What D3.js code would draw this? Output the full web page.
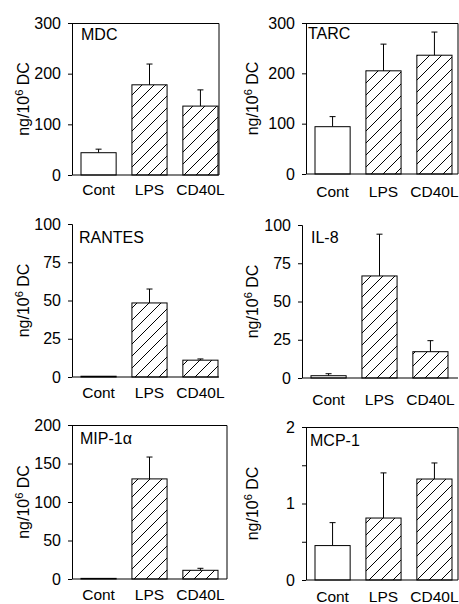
<!DOCTYPE html>
<html lang="en">

<head>
    <meta charset="UTF-8">
    <title>Chemokine production by DC</title>
    <script src="https://d3js.org/d3.v7.min.js"></script>
    <style>
        body { margin: 0; background: white; }
        text { font-family: "Liberation Sans", Arial, sans-serif; fill: black; }
    </style>
</head>

<body>
    <script>
        // categories
        const stimuli = ["Cont", "LPS", "CD40L"];

        // panel names
        const chemokines = ["MDC", "TARC", "RANTES", "IL-8", "MIP-1\u03b1", "MCP-1"];

        // mean values (ng/10^6 DC), one array per chemokine: Cont, LPS, CD40L
        const mdcMean = [44, 178, 136];
        const tarcMean = [94, 205, 236];
        const rantesMean = [0.5, 48.4, 11];
        const il8Mean = [1.5, 66.7, 17.2];
        const mipMean = [0.8, 130, 11.3];
        const mcpMean = [0.45, 0.81, 1.32];

        // error bar (upper) sizes
        const mdcErr = [7, 41, 32];
        const tarcErr = [20, 53, 46];
        const rantesErr = [0, 9.1, 0.8];
        const il8Err = [1.3, 27.3, 7.2];
        const mipErr = [0, 28.4, 2.6];
        const mcpErr = [0.3, 0.59, 0.21];

        // y tick labels
        const ticks300 = [0, 100, 200, 300];
        const ticks100 = [0, 25, 50, 75, 100];
        const ticks200 = [0, 50, 100, 150, 200];
        const ticks2 = [0, 0.5, 1, 1.5, 2];

        const means = [mdcMean, tarcMean, rantesMean, il8Mean, mipMean, mcpMean];
        const errs = [mdcErr, tarcErr, rantesErr, il8Err, mipErr, mcpErr];
        const tickSets = [ticks300, ticks300, ticks100, ticks100, ticks200, ticks2];

        // layout of each panel (pixels)
        const panels = [
            { x0: 72, y0: 23, w: 147, h: 152, frame: true, tx: 9, ty: 17, lab: 20, yl: 24 },
            { x0: 306, y0: 23, w: 152, h: 151, frame: true, tx: 2, ty: 16, lab: 23, yl: 253 },
            { x0: 72, y0: 224, w: 147, h: 153, frame: false, tx: 7, ty: 19, lab: 21, yl: 24 },
            { x0: 302, y0: 225, w: 156, h: 153, frame: false, tx: 9, ty: 18, lab: 27, yl: 253 },
            { x0: 72, y0: 425, w: 155, h: 154, frame: true, tx: 8, ty: 19, lab: 21, yl: 24 },
            { x0: 306, y0: 427, w: 152, h: 153, frame: true, tx: 4, ty: 19, lab: 22, yl: 253 }
        ];

        const svg = d3.select("body")
            .append("svg")
            .attr("width", 459)
            .attr("height", 604);

        // hatch pattern
        svg.append("defs")
            .append("pattern")
            .attr("id", "hatch")
            .attr("patternUnits", "userSpaceOnUse")
            .attr("width", 12)
            .attr("height", 12)
            .append("path")
            .attr("d", "M0,12 L12,0 M-3,3 L3,-3 M9,15 L15,9")
            .attr("stroke", "black")
            .attr("stroke-width", 1);

        panels.forEach((p, k) => {
            const g = svg.append("g")
                .attr("transform", `translate(${p.x0}, ${p.y0})`);

            const ticks = tickSets[k];
            const y = d3.scaleLinear()
                .domain([0, d3.max(ticks)])
                .range([p.h, 0]);

            const x = d3.scaleBand()
                .domain(stimuli)
                .range([9, 146])
                .paddingInner(0.31);

            const rows = stimuli.map((s, i) => ({ s: s, v: means[k][i], e: errs[k][i] }));

            // error bars (drawn first, bars sit over the bottom)
            const eb = g.selectAll("g.err")
                .data(rows.filter(d => d.e > 0))
                .enter()
                .append("g")
                .attr("class", "err");
            eb.append("line")
                .attr("x1", d => x(d.s) + x.bandwidth() / 2)
                .attr("x2", d => x(d.s) + x.bandwidth() / 2)
                .attr("y1", d => y(d.v))
                .attr("y2", d => y(d.v + d.e))
                .attr("stroke", "black");
            eb.append("line")
                .attr("x1", d => x(d.s) + x.bandwidth() / 2 - 3)
                .attr("x2", d => x(d.s) + x.bandwidth() / 2 + 3)
                .attr("y1", d => y(d.v + d.e))
                .attr("y2", d => y(d.v + d.e))
                .attr("stroke", "black");

            // bars
            g.selectAll("rect.bar")
                .data(rows)
                .enter()
                .append("rect")
                .attr("class", "bar")
                .attr("x", d => x(d.s))
                .attr("width", x.bandwidth())
                .attr("y", d => y(d.v))
                .attr("height", d => p.h - y(d.v))
                .attr("fill", d => d.s === "Cont" ? "white" : "url(#hatch)")
                .attr("stroke", "black")
                .attr("stroke-width", 1);

            // frame (top and right)
            if (p.frame) {
                g.append("path")
                    .attr("d", `M0,0.5 H${p.w} V${p.h}`)
                    .attr("fill", "none")
                    .attr("stroke", "black");
            }

            // baseline
            g.append("line")
                .attr("x1", 0)
                .attr("x2", p.w)
                .attr("y1", p.h)
                .attr("y2", p.h)
                .attr("stroke", "black")
                .attr("stroke-width", 1.2);

            // Y axis
            const yAxis = g.append("g")
                .call(d3.axisLeft(y)
                    .tickValues(ticks)
                    .tickSize(4)
                    .tickPadding(7)
                    .tickFormat(d => Number.isInteger(d) ? d : ""));
            yAxis.selectAll("text")
                .style("font-size", "16px")
                .style("font-family", "'Liberation Sans', Arial, sans-serif");
            yAxis.selectAll("path, line").attr("stroke", "black");
            yAxis.select(".domain").attr("d", `M-4,0.5 H0.5 V${p.h}`);

            // X labels
            g.selectAll("text.cat")
                .data(stimuli)
                .enter()
                .append("text")
                .attr("class", "cat")
                .attr("x", d => x(d) + x.bandwidth() / 2)
                .attr("y", p.h + p.lab)
                .attr("text-anchor", "middle")
                .attr("font-size", "15.5px")
                .text(d => d);

            // panel title
            g.append("text")
                .attr("x", p.tx)
                .attr("y", p.ty)
                .attr("font-size", "16px")
                .text(chemokines[k]);

            // Y label
            const yl = svg.append("text")
                .attr("transform", `translate(${p.yl + 5}, ${p.y0 + p.h / 2}) rotate(-90)`)
                .attr("text-anchor", "middle")
                .attr("font-size", "16px");
            yl.append("tspan").text("ng/10");
            yl.append("tspan").attr("font-size", "11px").attr("dy", -6).text("6");
            yl.append("tspan").attr("dy", 6).text(" DC");
        });
    </script>
</body>

</html>
